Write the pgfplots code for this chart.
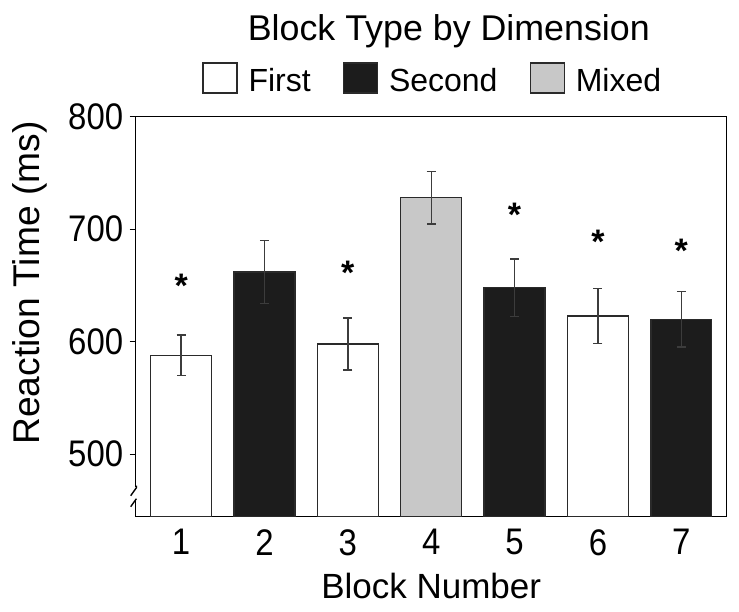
\documentclass[border=0pt]{standalone}
\usepackage{fontspec}
\setmainfont{Liberation Sans}
\newfontfamily\tickfont{Liberation Sans}[FakeStretch=0.89]
\usepackage{pgfplots}
\pgfplotsset{compat=1.18}
\definecolor{barblack}{HTML}{1C1C1C}
\definecolor{bargray}{HTML}{C8C8C8}
\definecolor{edge}{HTML}{2A2A2A}
\definecolor{errc}{HTML}{3C3C3C}
\begin{document}
\begin{tikzpicture}
\begin{axis}[
  name=ax,
  scale only axis, width=591bp, height=400bp,
  xmin=0.455, xmax=7.545, ymin=444.5, ymax=800,
  xtick={1,2,3,4,5,6,7}, ytick={500,600,700,800},
  xtick style={draw=none},
  ytick pos=left, tick align=outside, major tick length=6bp,
  ytick style={line width=1bp, black},
  axis line style={line width=1.4bp, black},
  /pgf/number format/assume math mode=true,
  tick label style={font=\tickfont\fontsize{37bp}{40bp}\selectfont},
  xticklabel style={yshift=-3bp},
  yticklabel style={xshift=-3bp},
  xlabel={Block Number},
  ylabel={Reaction Time (ms)},
  xlabel style={font=\fontsize{35bp}{40bp}\selectfont, at={(axis description cs:0.5,0)}, anchor=north, yshift=-53bp},
  ylabel style={font=\fontsize{37.2bp}{40bp}\selectfont, at={(axis description cs:-0.1797,0.584)}, anchor=center},
  legend columns=3,
  legend style={at={(0.5,1)}, anchor=south, yshift=22bp, xshift=1.5bp, draw=none, fill=none,
    inner sep=0pt, outer sep=0pt,
    font=\fontsize{32bp}{38bp}\selectfont,
    /tikz/every even column/.append style={column sep=30bp},
    /tikz/every odd column/.append style={column sep=9bp}},
  legend image code/.code={\draw[#1, line width=1.3bp] (0bp,-12.5bp) rectangle (34bp,17.5bp);},
  error bars/error bar style={line width=1.4bp, errc},
  error bars/error mark options={rotate=90, mark size=4.5bp, line width=1.4bp, errc},
]
\addplot[ybar, bar width=0.73, bar shift=0pt, fill=white, draw=edge, line width=1.3bp,
  error bars/.cd, y dir=both, y explicit]
  coordinates {(1,588) +- (0,18) (3,598) +- (0,23) (6,623) +- (0,24.3)};
\addlegendentry{First}
\addplot[ybar, bar width=0.73, bar shift=0pt, fill=barblack, draw=edge, line width=1.3bp,
  error bars/.cd, y dir=both, y explicit]
  coordinates {(2,662) +- (0,28) (5,648) +- (0,25.7) (7,620) +- (0,24.5)};
\addlegendentry{Second}
\addplot[ybar, bar width=0.73, bar shift=0pt, fill=bargray, draw=edge, line width=1.3bp,
  error bars/.cd, y dir=both, y explicit]
  coordinates {(4,728) +- (0,23.5)};
\addlegendentry{Mixed}
\addplot[only marks, mark=text, text mark as node=true,
  text mark={\fontsize{34bp}{34bp}\selectfont\bfseries *},
  text mark style={yshift=-4bp, inner sep=0pt}, forget plot]
  coordinates {(1,653) (3,665) (5,716) (6,692) (7,684)};
\end{axis}
\node[anchor=base, font=\fontsize{35.8bp}{40bp}\selectfont] at ([xshift=17.6bp, yshift=75.8bp]ax.north) {Block Type by Dimension};
% axis break
\fill[white] ([xshift=-3bp, yshift=18bp]ax.south west) rectangle ([xshift=3bp, yshift=30bp]ax.south west);
\draw[line width=1.4bp] ([xshift=-5bp, yshift=21bp]ax.south west) -- ([xshift=0.7bp, yshift=29bp]ax.south west) -- ([xshift=0.7bp, yshift=31bp]ax.south west);
\draw[line width=1.4bp] ([xshift=-5bp, yshift=10bp]ax.south west) -- ([xshift=0.7bp, yshift=18bp]ax.south west);
\pgfresetboundingbox
\path ([xshift=-135.7bp, yshift=-94.3bp]ax.south west) rectangle ([xshift=12.3bp, yshift=116.7bp]ax.north east);
\end{tikzpicture}
\end{document}
